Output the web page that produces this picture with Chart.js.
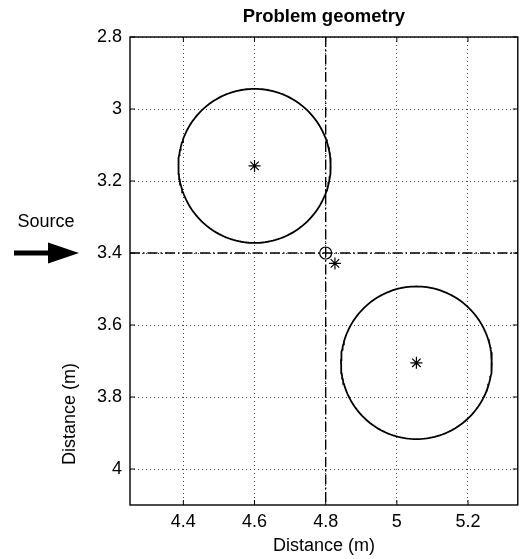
<!DOCTYPE html>
<html>
<head>
<meta charset="utf-8">
<script src="https://cdn.jsdelivr.net/npm/chart.js@4/dist/chart.umd.min.js"></script>
<style>
  html, body { margin: 0; padding: 0; background: #fff; }
  #wrap { width: 525px; height: 559px; }
</style>
</head>
<body>
<div id="wrap"><canvas id="geo"></canvas></div>
<script>
// scatterer centres and radii (m)
const centerX = [4.6, 5.055];
const centerY = [3.158, 3.705];
const radii = [0.214, 0.212];

// source axis crossing and receiver point
const refX = 4.8;
const refY = 3.4;
const receiverX = [4.826];
const receiverY = [3.429];

// axes
const xTicks = [4.4, 4.6, 4.8, 5, 5.2];
const yTicks = [2.8, 3, 3.2, 3.4, 3.6, 3.8, 4];
const xRange = [4.25, 5.34];
const yRange = [2.8, 4.1];

const FONT = '"Liberation Sans", Arial, sans-serif';
const DASH_DOT = [10, 3, 1.5, 3];

// outline of each scatterer, sampled around its centre
function outline(i) {
  const pts = [];
  for (let k = 0; k <= 180; k++) {
    const a = (k / 180) * Math.PI * 2;
    pts.push({ x: centerX[i] + radii[i] * Math.cos(a), y: centerY[i] + radii[i] * Math.sin(a) });
  }
  return pts;
}

const datasets = [];
centerX.forEach((cx, i) => {
  datasets.push({
    data: outline(i), showLine: true, borderColor: '#000', borderWidth: 1.8,
    pointRadius: 0, tension: 0
  });
  datasets.push({
    data: [{ x: cx, y: centerY[i] }], pointStyle: 'star', pointRadius: 6,
    borderColor: '#000', borderWidth: 1.2, backgroundColor: '#000'
  });
});
// dash-dot cross hairs through the reference point
datasets.push({
  data: [{ x: refX, y: yRange[0] }, { x: refX, y: yRange[1] }], showLine: true,
  borderColor: '#000', borderWidth: 1.4, borderDash: DASH_DOT, pointRadius: 0
});
datasets.push({
  data: [{ x: xRange[0], y: refY }, { x: xRange[1], y: refY }], showLine: true,
  borderColor: '#000', borderWidth: 1.4, borderDash: DASH_DOT, pointRadius: 0
});
datasets.push({
  data: [{ x: refX, y: refY }], pointStyle: 'circle', pointRadius: 6,
  borderColor: '#000', borderWidth: 1.2, backgroundColor: 'rgba(0,0,0,0)'
});
datasets.push({
  data: receiverX.map((x, i) => ({ x: x, y: receiverY[i] })), pointStyle: 'star', pointRadius: 6,
  borderColor: '#000', borderWidth: 1.2
});

// box, inward ticks, titles and the source arrow
const decor = {
  id: 'decor',
  afterDraw(chart) {
    const ctx = chart.ctx;
    const a = chart.chartArea;
    const xs = chart.scales.x, ys = chart.scales.y;
    ctx.save();
    ctx.strokeStyle = '#000';
    ctx.lineWidth = 1.4;
    ctx.setLineDash([]);
    ctx.strokeRect(a.left, a.top, a.right - a.left, a.bottom - a.top);
    ctx.lineWidth = 1;
    ctx.beginPath();
    xTicks.forEach(v => {
      const p = xs.getPixelForValue(v);
      ctx.moveTo(p, a.bottom); ctx.lineTo(p, a.bottom - 5);
      ctx.moveTo(p, a.top); ctx.lineTo(p, a.top + 5);
    });
    yTicks.forEach(v => {
      const p = ys.getPixelForValue(v);
      ctx.moveTo(a.left, p); ctx.lineTo(a.left + 5, p);
      ctx.moveTo(a.right, p); ctx.lineTo(a.right - 5, p);
    });
    ctx.stroke();

    ctx.fillStyle = '#000';
    ctx.textAlign = 'center';
    ctx.textBaseline = 'middle';
    ctx.font = 'bold 18.5px ' + FONT;
    ctx.fillText('Problem geometry', (a.left + a.right) / 2, 17);
    ctx.font = '18px ' + FONT;
    ctx.fillText('Distance (m)', (a.left + a.right) / 2, 546);
    ctx.fillText('Source', 46, 222);
    ctx.save();
    ctx.translate(70, 414);
    ctx.rotate(-Math.PI / 2);
    ctx.fillText('Distance (m)', 0, 0);
    ctx.restore();

    // arrow pointing along the source axis
    const ay = ys.getPixelForValue(refY);
    ctx.fillRect(14, ay - 2.5, 36, 5);
    ctx.beginPath();
    ctx.moveTo(48, ay - 10.5);
    ctx.lineTo(79, ay);
    ctx.lineTo(48, ay + 10.5);
    ctx.closePath();
    ctx.fill();
    ctx.restore();
  }
};

new Chart(document.getElementById('geo'), {
  type: 'scatter',
  data: { datasets: datasets },
  plugins: [decor],
  options: {
    responsive: true,
    maintainAspectRatio: false,
    animation: false,
    layout: { padding: { top: 37, right: 3, left: 0, bottom: 0 } },
    plugins: { legend: { display: false }, tooltip: { enabled: false }, title: { display: false } },
    scales: {
      x: {
        type: 'linear', min: xRange[0], max: xRange[1],
        afterBuildTicks: s => { s.ticks = xTicks.map(v => ({ value: v })); },
        afterFit: s => { s.height = 54; },
        ticks: { color: '#000', font: { family: FONT, size: 18 }, padding: 6, maxRotation: 0,
          callback: v => String(+v.toFixed(1)) },
        grid: { color: '#444', lineWidth: 1, drawTicks: false },
        border: { display: false, dash: [1, 3] }
      },
      y: {
        type: 'linear', min: yRange[0], max: yRange[1], reverse: true,
        afterBuildTicks: s => { s.ticks = yTicks.map(v => ({ value: v })); },
        afterFit: s => { s.width = 130; },
        ticks: { color: '#000', font: { family: FONT, size: 18 }, padding: 8,
          callback: v => String(+v.toFixed(1)) },
        grid: { color: '#444', lineWidth: 1, drawTicks: false },
        border: { display: false, dash: [1, 3] }
      }
    }
  }
});
</script>
</body>
</html>
